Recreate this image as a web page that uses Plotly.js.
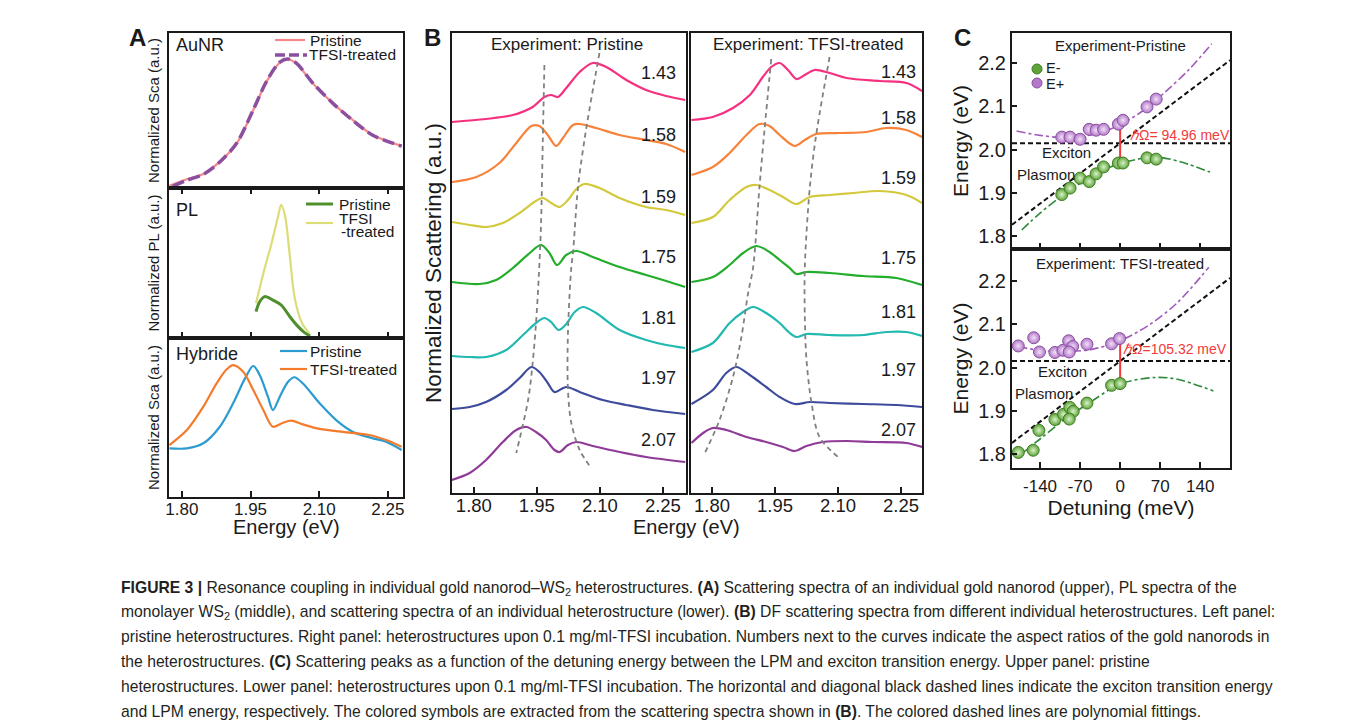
<!DOCTYPE html>
<html><head><meta charset="utf-8">
<script src="https://cdn.plot.ly/plotly-3.0.1.min.js"></script>
<style>html,body{margin:0;padding:0;background:#fff}#chart{width:1355px;height:728px}</style>
</head><body><div id="chart"></div>
<script>
// ================= DATA =================
// Panel A – AuNR scattering
const auNREnergyPristine = [1.773,1.811,1.847,1.883,1.920,1.956,1.985,2.014,2.032,2.050,2.086,2.130,2.173,2.217,2.280];
const auNRPristine       = [0.015,0.056,0.090,0.170,0.288,0.503,0.686,0.809,0.830,0.804,0.675,0.546,0.439,0.342,0.271];
const auNREnergyTreated  = [1.780,1.811,1.847,1.883,1.920,1.956,1.985,2.014,2.032,2.050,2.086,2.130,2.173,2.217,2.280];
const auNRTreated        = [0.010,0.050,0.088,0.168,0.290,0.505,0.688,0.812,0.832,0.806,0.677,0.546,0.437,0.340,0.270];
// Panel A – PL
const plEnergyPristine = [1.962,1.970,1.981,1.999,2.017,2.036,2.054,2.068,2.080];
const plPristine       = [0.176,0.242,0.276,0.253,0.220,0.142,0.076,0.036,0.013];
const plEnergyTreated  = [1.962,1.978,1.996,2.010,2.017,2.025,2.036,2.046,2.061,2.079];
const plTreated        = [0.231,0.431,0.631,0.809,0.887,0.820,0.542,0.276,0.109,0.027];
// Panel A – Hybride scattering
const hybEnergyPristine = [1.773,1.811,1.847,1.883,1.912,1.938,1.956,1.970,1.988,1.999,2.014,2.032,2.046,2.064,2.101,2.137,2.173,2.217,2.246,2.280];
const hybPristine       = [0.306,0.306,0.338,0.442,0.589,0.746,0.824,0.767,0.631,0.547,0.631,0.725,0.753,0.715,0.589,0.484,0.411,0.369,0.348,0.296];
const hybEnergyTreated  = [1.773,1.811,1.847,1.876,1.898,1.912,1.934,1.956,1.978,1.999,2.021,2.039,2.064,2.101,2.159,2.209,2.246,2.280];
const hybTreated        = [0.327,0.421,0.568,0.715,0.803,0.830,0.788,0.673,0.547,0.442,0.467,0.480,0.457,0.428,0.407,0.390,0.358,0.316];

// Panel B – aspect ratios (labels)
const aspectRatios = ['1.43','1.58','1.59','1.75','1.81','1.97','2.07'];
// Panel B – Pristine spectra (stacked, a.u.)
const pri143E = [1.748,1.829,1.893,1.940,1.968,1.984,2.000,2.020,2.052,2.083,2.115,2.163,2.210,2.258,2.303];
const pri143I = [37.1,37.4,37.8,38.6,39.6,39.8,39.6,40.5,42.1,43.0,42.6,41.3,40.3,39.7,39.3];
const pri158E = [1.748,1.806,1.861,1.901,1.937,1.956,1.976,1.996,2.012,2.036,2.052,2.091,2.147,2.210,2.258,2.303];
const pri158I = [31.1,31.6,33.0,35.0,36.7,36.7,35.8,34.7,35.5,36.8,36.9,36.5,35.8,35.3,34.9,34.1];
const pri159E = [1.748,1.790,1.829,1.869,1.909,1.944,1.964,1.984,2.004,2.024,2.044,2.063,2.099,2.147,2.210,2.258,2.303];
const pri159I = [27.1,26.8,26.6,27.0,28.0,29.1,29.5,29.0,28.6,29.3,30.4,30.9,30.5,29.5,28.6,28.3,27.8];
const pri175E = [1.748,1.814,1.853,1.893,1.933,1.960,1.980,1.998,2.020,2.044,2.083,2.147,2.210,2.258,2.303];
const pri175I = [21.1,20.9,21.3,22.5,24.0,24.8,24.0,22.8,23.8,24.2,23.6,22.6,21.8,21.2,20.6];
const pri181E = [1.748,1.790,1.829,1.877,1.917,1.948,1.968,1.984,2.002,2.020,2.040,2.060,2.091,2.147,2.210,2.258,2.303];
const pri181I = [13.7,13.6,13.6,14.3,15.8,17.0,17.5,17.1,16.3,16.9,18.1,18.6,18.0,16.3,15.3,14.8,14.5];
const pri197E = [1.748,1.790,1.829,1.877,1.909,1.937,1.956,1.976,1.992,2.020,2.052,2.107,2.163,2.226,2.303];
const pri197I = [8.4,8.6,9.1,10.3,11.5,12.6,12.1,11.0,10.1,10.6,10.1,9.3,8.8,8.3,7.9];
const pri207E = [1.748,1.790,1.829,1.869,1.901,1.925,1.948,1.972,1.992,2.004,2.024,2.044,2.083,2.147,2.210,2.303];
const pri207I = [1.3,2.0,3.3,5.1,6.3,6.6,6.1,5.3,4.3,4.1,4.8,5.1,4.7,4.1,3.6,3.1];
const priGuideLowE  = [1.968,1.964,1.960,1.955,1.948,1.940,1.930,1.915,1.901];
const priGuideLowI  = [42.8,35.0,27.0,22.0,17.0,13.0,9.5,6.5,4.0];
const priGuideHighE = [2.099,2.067,2.048,2.036,2.032,2.024,2.024,2.032,2.052,2.079];
const priGuideHighI = [44.0,36.3,30.6,24.0,22.6,16.0,10.3,7.0,4.3,2.5];

// Panel B – TFSI-treated spectra (stacked, a.u.)
const tr143E = [1.751,1.802,1.850,1.890,1.921,1.941,1.961,1.981,2.001,2.021,2.044,2.080,2.120,2.199,2.263,2.300];
const tr143I = [37.3,37.6,38.5,39.8,41.6,42.6,43.0,42.3,41.4,41.8,42.3,42.0,41.5,41.2,41.0,40.2];
const tr158E = [1.751,1.802,1.842,1.882,1.913,1.937,1.961,1.997,2.021,2.048,2.104,2.167,2.215,2.263,2.300];
const tr158I = [31.8,32.6,34.0,35.8,36.9,36.7,35.8,34.7,35.3,35.9,36.0,36.1,36.5,36.3,35.6];
const tr159E = [1.751,1.802,1.842,1.882,1.906,1.937,1.969,2.001,2.033,2.080,2.136,2.199,2.263,2.300];
const tr159I = [27.0,27.6,29.3,30.6,30.8,30.3,29.6,28.9,29.6,29.8,30.0,30.2,29.8,29.0];
const tr175E = [1.751,1.802,1.842,1.874,1.906,1.937,1.961,1.985,2.001,2.025,2.080,2.160,2.239,2.300];
const tr175I = [21.1,21.6,22.8,24.0,24.7,24.1,23.3,22.5,21.9,22.1,22.0,21.7,21.5,20.8];
const tr181E = [1.751,1.802,1.842,1.874,1.898,1.929,1.961,1.985,2.001,2.025,2.080,2.160,2.215,2.263,2.300];
const tr181I = [14.1,15.0,17.0,18.1,18.6,18.0,17.0,16.0,15.6,15.9,15.8,15.8,16.1,16.1,15.7];
const tr197E = [1.751,1.802,1.834,1.858,1.890,1.929,1.961,1.997,2.033,2.080,2.160,2.239,2.300];
const tr197I = [8.9,10.3,12.0,12.6,11.8,10.6,9.6,8.9,9.1,9.0,8.9,8.8,8.6];
const tr207E = [1.751,1.779,1.802,1.834,1.882,1.929,1.969,1.997,2.025,2.064,2.120,2.183,2.263,2.300];
const tr207I = [5.0,6.0,6.5,6.3,5.6,5.1,4.6,4.2,4.7,5.1,5.2,5.1,5.0,4.6];
const trGuideLowE  = [1.941,1.925,1.913,1.898,1.886,1.870,1.850,1.818,1.783];
const trGuideLowI  = [43.4,36.3,30.6,22.6,20.0,15.6,11.6,7.3,4.0];
const trGuideHighE = [2.080,2.048,2.033,2.021,2.021,2.025,2.037,2.056,2.100];
const trGuideHighI = [43.6,35.8,30.6,22.6,17.6,13.3,9.0,5.6,3.6];

// Panel C – Pristine
const priDetuning = [-102,-87.5,-70,-54,-42,-29,-3,5,47,63];
const priEplus    = [2.029,2.029,2.024,2.047,2.045,2.047,2.059,2.068,2.099,2.117];
const priEminus   = [1.896,1.911,1.934,1.926,1.944,1.960,1.969,1.969,1.981,1.978];
const priFitPlusDet  = [-181,-140,-100,-60,-20,0,40,80,120,160];
const priFitPlus     = [2.043,2.033,2.028,2.032,2.046,2.058,2.090,2.135,2.185,2.245];
const priFitMinusDet = [-172,-140,-100,-60,-20,0,40,70,110,157];
const priFitMinus    = [1.814,1.853,1.895,1.930,1.958,1.968,1.980,1.982,1.970,1.948];
// Panel C – TFSI-treated
const trDetuningPlus  = [-178,-151,-141,-114,-100,-90,-83,-89,-58,-15,-1];
const trEplus         = [2.050,2.069,2.036,2.035,2.040,2.062,2.049,2.036,2.054,2.055,2.067];
const trDetuningMinus = [-178,-152,-142,-114,-99,-88,-82,-89,-58,-15,0];
const trEminus        = [1.804,1.809,1.855,1.880,1.892,1.908,1.899,1.881,1.918,1.959,1.963];
const trFitPlusDet  = [-178,-140,-100,-50,0,50,100,155];
const trFitPlus     = [2.048,2.040,2.037,2.042,2.062,2.098,2.150,2.232];
const trFitMinusDet = [-175,-140,-100,-50,0,60,100,163];
const trFitMinus    = [1.798,1.835,1.877,1.922,1.962,1.977,1.973,1.946];
// Exciton / plasmon reference lines and Rabi splitting
const excitonEnergy = 2.015;
const plasmonDetuning = [-189,192];
const plasmonEnergy   = [1.826,2.207];
const rabiLabels = ['<i>ℏ</i>Ω= 94.96 meV','<i>ℏ</i>Ω=105.32 meV'];
const rabiLow  = [1.966,1.957];
const rabiHigh = [2.064,2.069];

// ================= STYLE / LAYOUT =================
const W = 1355, H = 728;
const FONT = 'Liberation Sans, Arial, Helvetica, sans-serif';
const INK = '#1a1a1a';
const px = v => v / W;
const py = v => 1 - v / H;
const bColors = ['#f5307f','#f7823a','#d2c93c','#22ad2a','#22b9b0','#3d4b9c','#8f3b97'];
const GUIDE = '#808080';
const RED = '#f23a3a';

const traces = [];
function ln(x, y, xa, ya, color, width, dash, shape) {
  traces.push({x, y, xaxis: xa, yaxis: ya, mode: 'lines', showlegend: false, hoverinfo: 'skip',
    line: {color, width, dash: dash || 'solid', shape: shape || 'spline', smoothing: 0.9}});
}
// Panel A
ln(auNREnergyPristine, auNRPristine, 'x', 'y', '#f4888a', 2.2);
ln(auNREnergyTreated, auNRTreated, 'x', 'y', '#8c4f9f', 3.5, '12px,5px');
ln(plEnergyTreated, plTreated, 'x2', 'y2', '#dcdc78', 2.2);
ln(plEnergyPristine, plPristine, 'x2', 'y2', '#4e8f2c', 3);
ln(hybEnergyPristine, hybPristine, 'x3', 'y3', '#2b9bd0', 2.2);
ln(hybEnergyTreated, hybTreated, 'x3', 'y3', '#f47a2c', 2.2);
// Panel B
const priE = [pri143E,pri158E,pri159E,pri175E,pri181E,pri197E,pri207E];
const priI = [pri143I,pri158I,pri159I,pri175I,pri181I,pri197I,pri207I];
const trE = [tr143E,tr158E,tr159E,tr175E,tr181E,tr197E,tr207E];
const trI = [tr143I,tr158I,tr159I,tr175I,tr181I,tr197I,tr207I];
priE.forEach((e, i) => ln(e, priI[i], 'x4', 'y4', bColors[i], 2.2));
trE.forEach((e, i) => ln(e, trI[i], 'x5', 'y5', bColors[i], 2.2));
ln(priGuideLowE, priGuideLowI, 'x4', 'y4', GUIDE, 1.8, '5px,4px');
ln(priGuideHighE, priGuideHighI, 'x4', 'y4', GUIDE, 1.8, '5px,4px');
ln(trGuideLowE, trGuideLowI, 'x5', 'y5', GUIDE, 1.8, '5px,4px');
ln(trGuideHighE, trGuideHighI, 'x5', 'y5', GUIDE, 1.8, '5px,4px');
// Panel C
[['x6','y6'],['x7','y7']].forEach(([xa, ya]) => {
  ln([plasmonDetuning[0], plasmonDetuning[1]], [excitonEnergy, excitonEnergy], xa, ya, '#111', 2, '5px,3px', 'linear');
  ln(plasmonDetuning, plasmonEnergy, xa, ya, '#111', 2, '5px,3px', 'linear');
});
ln(priFitPlusDet, priFitPlus, 'x6', 'y6', '#a25bbb', 1.6, 'dashdot');
ln(priFitMinusDet, priFitMinus, 'x6', 'y6', '#2f8a3a', 1.6, 'dashdot');
ln(trFitPlusDet, trFitPlus, 'x7', 'y7', '#a25bbb', 1.6, 'dashdot');
ln(trFitMinusDet, trFitMinus, 'x7', 'y7', '#2f8a3a', 1.6, 'dashdot');
// Rabi splitting arrows (double-headed, at zero detuning)
[['x6','y6'],['x7','y7']].forEach(([xa, ya], i) => {
  traces.push({x: [0, 0], y: [rabiLow[i], rabiHigh[i]], xaxis: xa, yaxis: ya, mode: 'lines+markers', showlegend: false,
    hoverinfo: 'skip', line: {color: RED, width: 2},
    marker: {symbol: ['triangle-down', 'triangle-up'], size: 8, color: RED, line: {width: 0}}});
});
const GREEN_M = {size: 12, color: '#5ea33a', line: {color: '#3f7f22', width: 1}, gradient: {type: 'radial', color: '#d9f2c9'}};
const PURPLE_M = {size: 12, color: '#b27ac8', line: {color: '#8a4fa3', width: 1}, gradient: {type: 'radial', color: '#f3e0f8'}};
function pts(x, y, xa, ya, marker, name) {
  traces.push({x, y, xaxis: xa, yaxis: ya, mode: 'markers', name, showlegend: false, marker});
}
pts(priDetuning, priEminus, 'x6', 'y6', GREEN_M, 'E-');
pts(priDetuning, priEplus, 'x6', 'y6', PURPLE_M, 'E+');
pts(trDetuningMinus, trEminus, 'x7', 'y7', GREEN_M, 'E-');
pts(trDetuningPlus, trEplus, 'x7', 'y7', PURPLE_M, 'E+');

// Axes
function axis(extra) {
  return Object.assign({showgrid: false, zeroline: false, showline: true, linecolor: INK, linewidth: 2,
    mirror: true, ticks: '', showticklabels: false, fixedrange: true,
    tickfont: {family: FONT, size: 16, color: INK}}, extra);
}
const eTicks = {tickvals: [1.80, 1.95, 2.10, 2.25], ticktext: ['1.80', '1.95', '2.10', '2.25']};
const aX = [px(169), px(403)], aRange = [1.772, 2.283];
const inTicks = {ticks: 'inside', ticklen: 6, tickwidth: 2, tickcolor: INK};
const layout = {
  width: W, height: H, margin: {l: 0, r: 0, t: 0, b: 0}, paper_bgcolor: '#fff', plot_bgcolor: 'rgba(0,0,0,0)',
  showlegend: false, font: {family: FONT, color: INK},
  xaxis: axis(Object.assign({domain: aX, range: aRange, anchor: 'y'}, eTicks)),
  yaxis: axis({domain: [py(188), py(33)], range: [0, 1], anchor: 'x',
    title: {text: 'Normalized Sca (a.u.)', font: {size: 15}, standoff: 4}}),
  xaxis2: axis(Object.assign({domain: aX, range: aRange, anchor: 'y2', mirror: 'ticks'}, inTicks, eTicks)),
  yaxis2: axis({domain: [py(338), py(188)], range: [0, 1], anchor: 'x2',
    title: {text: 'Normalized PL (a.u.)', font: {size: 15}, standoff: 4}}),
  xaxis3: axis(Object.assign({domain: aX, range: aRange, anchor: 'y3', showticklabels: true, ticklabelstandoff: -4,
    tickfont: {family: FONT, size: 17, color: INK}}, inTicks, eTicks)),
  yaxis3: axis({domain: [py(497), py(338)], range: [0, 1], anchor: 'x3',
    title: {text: 'Normalized Sca (a.u.)', font: {size: 15}, standoff: 4}}),
  xaxis4: axis(Object.assign({domain: [px(452), px(686)], range: [1.748, 2.305], anchor: 'y4', showticklabels: true, ticklabelstandoff: -5,
    tickfont: {family: FONT, size: 18.5, color: INK}}, inTicks, eTicks)),
  yaxis4: axis({domain: [py(493), py(33)], range: [0, 46], anchor: 'x4',
    title: {text: 'Normalized Scattering (a.u.)', font: {size: 22.5}, standoff: 2}}),
  xaxis5: axis(Object.assign({domain: [px(691), px(922)], range: [1.75, 2.30], anchor: 'y5', showticklabels: true, ticklabelstandoff: -5,
    tickfont: {family: FONT, size: 18.5, color: INK}}, inTicks, eTicks)),
  yaxis5: axis({domain: [py(493), py(33)], range: [0, 46], anchor: 'x5'}),
  xaxis6: axis(Object.assign({domain: [px(1012), px(1230)], range: [-189, 192], anchor: 'y6',
    tickvals: [-140, -70, 0, 70, 140]}, inTicks)),
  yaxis6: axis(Object.assign({domain: [py(249), py(33)], range: [1.77, 2.27], anchor: 'x6', ticklen: 5,
    showticklabels: true, tickvals: [1.8, 1.9, 2.0, 2.1, 2.2], ticktext: ['1.8', '1.9', '2.0', '2.1', '2.2'],
    tickfont: {family: FONT, size: 20, color: INK},
    title: {text: 'Energy (eV)', font: {size: 21}, standoff: 4}}, {ticks: 'inside', tickwidth: 2, tickcolor: INK})),
  xaxis7: axis(Object.assign({domain: [px(1012), px(1230)], range: [-189, 192], anchor: 'y7',
    showticklabels: true, tickvals: [-140, -70, 0, 70, 140], ticktext: ['-140', '-70', '0', '70', '140'],
    tickfont: {family: FONT, size: 17, color: INK}, ticklabelstandoff: 2,
    title: {text: 'Detuning (meV)', font: {size: 21}, standoff: 0}}, inTicks)),
  yaxis7: axis(Object.assign({domain: [py(468), py(249)], range: [1.768, 2.274], anchor: 'x7', ticklen: 5,
    showticklabels: true, tickvals: [1.8, 1.9, 2.0, 2.1, 2.2], ticktext: ['1.8', '1.9', '2.0', '2.1', '2.2'],
    tickfont: {family: FONT, size: 20, color: INK},
    title: {text: 'Energy (eV)', font: {size: 21}, standoff: 4}}, {ticks: 'inside', tickwidth: 2, tickcolor: INK})),
  annotations: [], shapes: []
};

const ann = layout.annotations, shp = layout.shapes;
function txt(text, x, y, size, opts) {
  ann.push(Object.assign({text, x: px(x), y: py(y), xref: 'paper', yref: 'paper', showarrow: false, borderpad: 0,
    xanchor: 'center', yanchor: 'middle', font: {family: FONT, size, color: INK}}, opts || {}));
}
function seg(x0, y0, x1, y1, color, width, dash) {
  shp.push({type: 'line', xref: 'paper', yref: 'paper', x0: px(x0), y0: py(y0), x1: px(x1), y1: py(y1),
    line: {color, width, dash: dash || 'solid'}});
}
// Panel letters
txt('<b>A</b>', 137, 37, 24); txt('<b>B</b>', 432, 37, 24); txt('<b>C</b>', 962, 37, 24);
// Panel A labels and legends
txt('AuNR', 175, 45, 18, {xanchor: 'left'});
txt('PL', 175, 210, 18, {xanchor: 'left'});
txt('Hybride', 175, 354, 18, {xanchor: 'left'});
seg(275, 40, 305, 40, '#f4888a', 2.2); txt('Pristine', 309, 40, 15.5, {xanchor: 'left'});
seg(275, 55, 307, 55, '#8c4f9f', 3.5, '10px,4px'); txt('TFSI-treated', 308, 55, 15.5, {xanchor: 'left'});
seg(306, 204, 333, 204, '#4e8f2c', 3); txt('Pristine', 338, 204, 15.5, {xanchor: 'left'});
seg(306, 223, 333, 223, '#dcdc78', 2.2); txt('TFSI', 338, 218, 15.5, {xanchor: 'left'});
txt('-treated', 340, 232, 15.5, {xanchor: 'left'});
seg(280, 351, 307, 351, '#2b9bd0', 2.2); txt('Pristine', 309, 351, 15.5, {xanchor: 'left'});
seg(280, 369, 307, 369, '#f47a2c', 2.2); txt('TFSI-treated', 309, 369, 15.5, {xanchor: 'left'});
// x-axis titles for panels A and B
txt('Energy (eV)', 286, 527, 20);
txt('Energy (eV)', 686, 527, 20);
// Panel B titles, ratio labels
txt('Experiment: Pristine', 567, 44, 17);
txt('Experiment: TFSI-treated', 808, 44, 17);
const priLabelI = [42.0, 35.8, 29.6, 23.6, 17.5, 11.5, 5.3];
const trLabelI = [42.1, 37.5, 31.5, 23.5, 18.1, 12.3, 6.3];
aspectRatios.forEach((r, i) => {
  ann.push({text: r, x: 2.286, y: priLabelI[i], xref: 'x4', yref: 'y4', showarrow: false, xanchor: 'right', yanchor: 'middle',
    font: {family: FONT, size: 18, color: INK}});
  ann.push({text: r, x: 2.290, y: trLabelI[i], xref: 'x5', yref: 'y5', showarrow: false, xanchor: 'right', yanchor: 'middle',
    font: {family: FONT, size: 18, color: INK}});
});
// Panel C texts
txt('Experiment-Pristine', 1120, 45, 15);
txt('Experiment: TFSI-treated', 1120, 263, 15);
shp.push({type: 'circle', xref: 'paper', yref: 'paper', x0: px(1032), x1: px(1042), y0: py(74), y1: py(64), fillcolor: '#5ea33a', line: {color: '#3f7f22', width: 1}});
shp.push({type: 'circle', xref: 'paper', yref: 'paper', x0: px(1032), x1: px(1042), y0: py(88), y1: py(78), fillcolor: '#b27ac8', line: {color: '#8a4fa3', width: 1}});
txt('E-', 1045, 68, 14.5, {xanchor: 'left'});
txt('E+', 1045, 84, 14.5, {xanchor: 'left'});
const cTextSpec = [['x6', 'y6', 0], ['x7', 'y7', 1]];
const excitonLabelPos = [[-93, 1.994], [-100, 1.992]];
const plasmonLabelPos = [[-129, 1.943], [-133, 1.940]];
const rabiLabelPos = [[13, 2.033], [2, 2.042]];
cTextSpec.forEach(([xa, ya, i]) => {
  ann.push({text: 'Exciton', x: excitonLabelPos[i][0], y: excitonLabelPos[i][1], xref: xa, yref: ya, showarrow: false,
    font: {family: FONT, size: 15, color: INK}});
  ann.push({text: 'Plasmon', x: plasmonLabelPos[i][0], y: plasmonLabelPos[i][1], xref: xa, yref: ya, showarrow: false,
    font: {family: FONT, size: 15, color: INK}});
  ann.push({text: rabiLabels[i], x: rabiLabelPos[i][0], y: rabiLabelPos[i][1], xref: xa, yref: ya, showarrow: false, xanchor: 'left',
    font: {family: FONT, size: 14, color: RED}});
});
// Caption
const captionLines = [
  '<b>FIGURE 3 |</b> Resonance coupling in individual gold nanorod–WS<sub>2</sub> heterostructures. <b>(A)</b> Scattering spectra of an individual gold nanorod (upper), PL spectra of the',
  'monolayer WS<sub>2</sub> (middle), and scattering spectra of an individual heterostructure (lower). <b>(B)</b> DF scattering spectra from different individual heterostructures. Left panel:',
  'pristine heterostructures. Right panel: heterostructures upon 0.1 mg/ml-TFSI incubation. Numbers next to the curves indicate the aspect ratios of the gold nanorods in',
  'the heterostructures. <b>(C)</b> Scattering peaks as a function of the detuning energy between the LPM and exciton transition energy. Upper panel: pristine',
  'heterostructures. Lower panel: heterostructures upon 0.1 mg/ml-TFSI incubation. The horizontal and diagonal black dashed lines indicate the exciton transition energy',
  'and LPM energy, respectively. The colored symbols are extracted from the scattering spectra shown in <b>(B)</b>. The colored dashed lines are polynomial fittings.'
];
const captionY = [588, 612, 636, 661, 686, 711];
captionLines.forEach((t, i) => txt(t, 120, captionY[i], 15.7, {xanchor: 'left', font: {family: FONT, size: 15.7, color: '#231f20'}}));

Plotly.newPlot('chart', traces, layout, {staticPlot: true, displayModeBar: false});
</script></body></html>
